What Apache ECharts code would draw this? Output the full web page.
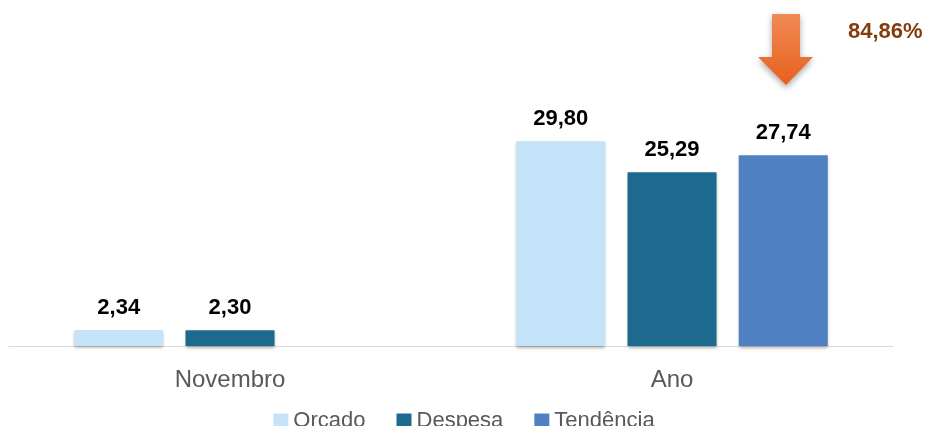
<!DOCTYPE html>
<html>
<head>
<meta charset="utf-8">
<title>Orçado x Despesa</title>
<script src="https://cdn.jsdelivr.net/npm/echarts@6/dist/echarts.min.js"></script>
<style>html,body{margin:0;padding:0;background:#fff;}#main{width:928px;height:426px;}</style>
</head>
<body>
<div id="main"></div>
<script>
var categories = ['Novembro', 'Ano'];
var orcado = [2.34, 29.80];
var despesa = [2.30, 25.29];
var tendencia = [null, 27.74];
var percentLabel = '84,86%';

function fmt(p) {
  return p.value == null ? '' : p.value.toFixed(2).replace('.', ',');
}

function barSeries(name, data, color) {
  return {
    name: name,
    type: 'bar',
    data: data,
    barWidth: 89,
    barGap: '25%',
    itemStyle: {color: color, shadowBlur: 3, shadowColor: 'rgba(0,0,0,0.3)', shadowOffsetY: 2},
    label: {
      show: true, position: 'top', distance: 11, formatter: fmt,
      fontFamily: 'Liberation Sans', fontWeight: 'bold', fontSize: 22, color: '#000'
    }
  };
}

var myChart = echarts.init(document.getElementById('main'));
var option = {
  animation: false,
  grid: {left: 9, right: 35, top: 71, bottom: 80},
  legend: {
    top: 405, left: 'center', icon: 'rect', itemWidth: 15, itemHeight: 15, itemGap: 31,
    textStyle: {fontFamily: 'Liberation Sans', fontSize: 22, color: '#595959'},
    data: ['Orçado', 'Despesa', 'Tendência']
  },
  xAxis: {
    type: 'category', data: categories,
    axisLine: {lineStyle: {color: '#d9d9d9', width: 1}},
    axisTick: {show: false},
    axisLabel: {margin: 22, fontFamily: 'Liberation Sans', fontSize: 24, color: '#595959'}
  },
  yAxis: {type: 'value', min: 0, max: 40, show: false},
  series: [
    barSeries('Orçado', orcado, '#C5E3F8'),
    barSeries('Despesa', despesa, '#1C6A8E'),
    barSeries('Tendência', tendencia, '#4F81C2')
  ],
  graphic: [
    {
      type: 'polygon',
      shape: {points: [[772, 14], [800, 14], [800, 57], [813, 57], [786, 85], [758, 57], [772, 57]]},
      style: {
        fill: new echarts.graphic.LinearGradient(0, 0, 0, 1, [
          {offset: 0, color: '#F08A55'}, {offset: 1, color: '#E8601C'}
        ]),
        shadowBlur: 6, shadowColor: 'rgba(0,0,0,0.35)', shadowOffsetY: 3
      }
    },
    {
      type: 'text', left: 848, top: 21,
      style: {text: percentLabel, fontFamily: 'Liberation Sans', fontWeight: 'bold', fontSize: 22, fill: '#843C0C'}
    }
  ]
};
myChart.setOption(option);
</script>
</body>
</html>
